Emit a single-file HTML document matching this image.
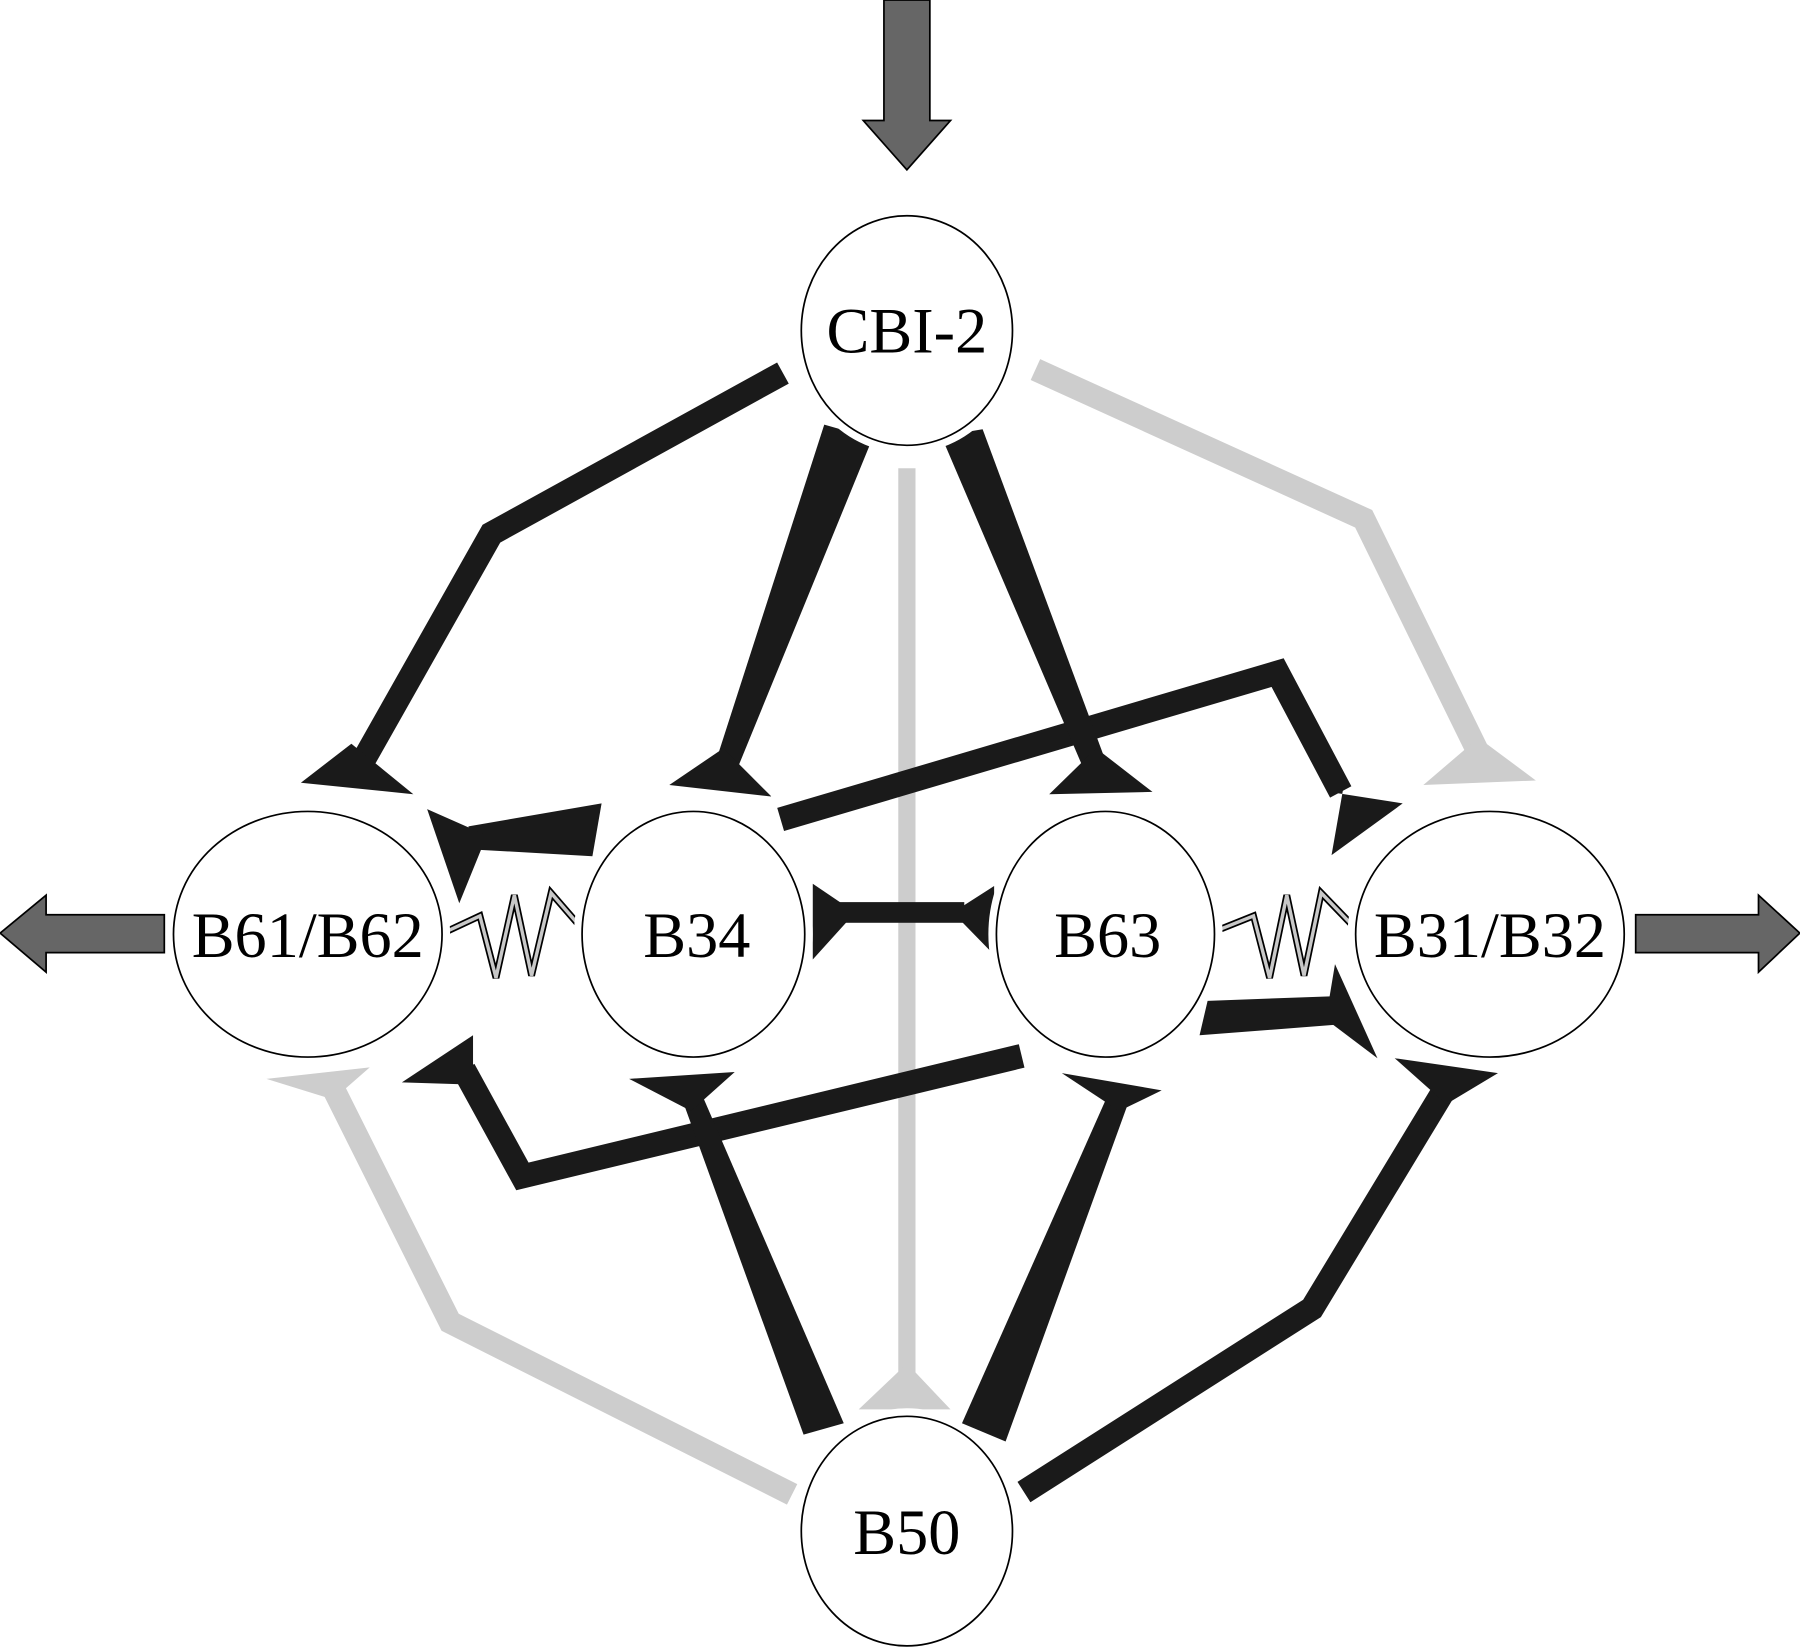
<!DOCTYPE html>
<html><head><meta charset="utf-8"><style>
html,body{margin:0;padding:0;background:#fff;}
svg{display:block;}
text{font-family:"Liberation Serif",serif;font-size:56px;fill:#000;text-anchor:middle;}
</style></head><body>
<svg width="1800" height="1647" viewBox="0 0 1568 1435" xmlns="http://www.w3.org/2000/svg">
<rect width="1568" height="1435" fill="#fff"/>
<g fill="#666" stroke="#000" stroke-width="1.5">
<polygon points="770,0 810,0 810,105 828,105 790,148 752,105 770,105"/>
<polygon points="143,797 143,830 40,830 40,847 0,813 40,780 40,797"/>
<polygon points="1425,797 1532,797 1532,780 1568,813 1532,847 1532,830 1425,830"/>
</g>
<g fill="none" stroke="#cdcdcd" stroke-width="20" stroke-linejoin="miter">
<polyline points="902,322 1188,452 1290,660"/>
<polyline points="690,1302 392,1152 290,948"/>
<line x1="790" y1="408" x2="790" y2="1205" stroke-width="15"/>
</g>
<g fill="#cdcdcd">
<polygon points="1240,684 1338,680 1295,648 1282,648"/>
<polygon points="232,940 322,930 290,958"/>
<polygon points="748,1228 828,1228 792,1190 788,1190"/>
</g>
<g fill="none" stroke="#1a1a1a" stroke-width="21" stroke-linejoin="miter">
<polyline points="682,325 428,465 315,665"/>
<polyline points="680,714 1113,586 1168,690"/>
<polyline points="890,920 455,1025 404,932"/>
<polyline points="892,1300 1143,1140 1258,950"/>
</g>
<g fill="#1a1a1a">
<polygon points="718,370 760,382 643,668 624,662"/>
<polygon points="820,380 856,374 965,668 944,670"/>
<polygon points="700,1250 735,1240 612,955 595,960"/>
<polygon points="838,1240 876,1256 985,955 966,952"/>
<polygon points="524,700 516,746 410,740 408,720"/>
<polygon points="1052,872 1162,868 1162,893 1045,902"/>
<rect x="730" y="786" width="110" height="18"/>
<polygon points="306,648 262,682 360,692"/>
<polygon points="630,652 583,684 672,694"/>
<polygon points="955,652 914,692 1004,690"/>
<polygon points="1158,690 1222,700 1160,745 1170,688"/>
<polygon points="372,705 424,728 400,787"/>
<polygon points="708,770 745,795 708,836"/>
<polygon points="866,772 830,795 866,832"/>
<polygon points="1163,840 1155,888 1200,922"/>
<polygon points="412,902 350,943 412,945"/>
<polygon points="548,940 640,934 602,968"/>
<polygon points="925,935 1012,950 975,968"/>
<polygon points="1215,922 1305,935 1260,962"/>
</g>
<g fill="none" stroke-linejoin="miter">
<polyline points="388,812 418,798 432,852 448,780 463,850 480,778 506,808" stroke="#000" stroke-width="6"/>
<polyline points="388,812 418,798 432,852 448,780 463,850 480,778 506,808" stroke="#c8c8c8" stroke-width="3"/>
<polyline points="1062,810 1092,798 1106,852 1121,780 1136,850 1151,778 1178,806" stroke="#000" stroke-width="6"/>
<polyline points="1062,810 1092,798 1106,852 1121,780 1136,850 1151,778 1178,806" stroke="#c8c8c8" stroke-width="3"/>
</g>
<g fill="#fff" stroke="#fff" stroke-width="14">
<ellipse cx="790" cy="288" rx="92" ry="100"/>
<ellipse cx="268" cy="814" rx="117" ry="107"/>
<ellipse cx="604" cy="814" rx="97" ry="107"/>
<ellipse cx="963" cy="814" rx="95" ry="107"/>
<ellipse cx="1298" cy="814" rx="117" ry="107"/>
<ellipse cx="790" cy="1334" rx="92" ry="100"/>
</g>
<g fill="#fff" stroke="#000" stroke-width="1.5">
<ellipse cx="790" cy="288" rx="92" ry="100"/>
<ellipse cx="268" cy="814" rx="117" ry="107"/>
<ellipse cx="604" cy="814" rx="97" ry="107"/>
<ellipse cx="963" cy="814" rx="95" ry="107"/>
<ellipse cx="1298" cy="814" rx="117" ry="107"/>
<ellipse cx="790" cy="1334" rx="92" ry="100"/>
</g>
<text x="790" y="307">CBI-2</text>
<text x="268" y="834">B61/B62</text>
<text x="607" y="834">B34</text>
<text x="965" y="834">B63</text>
<text x="1298" y="834">B31/B32</text>
<text x="790" y="1354">B50</text>
</svg>
</body></html>
